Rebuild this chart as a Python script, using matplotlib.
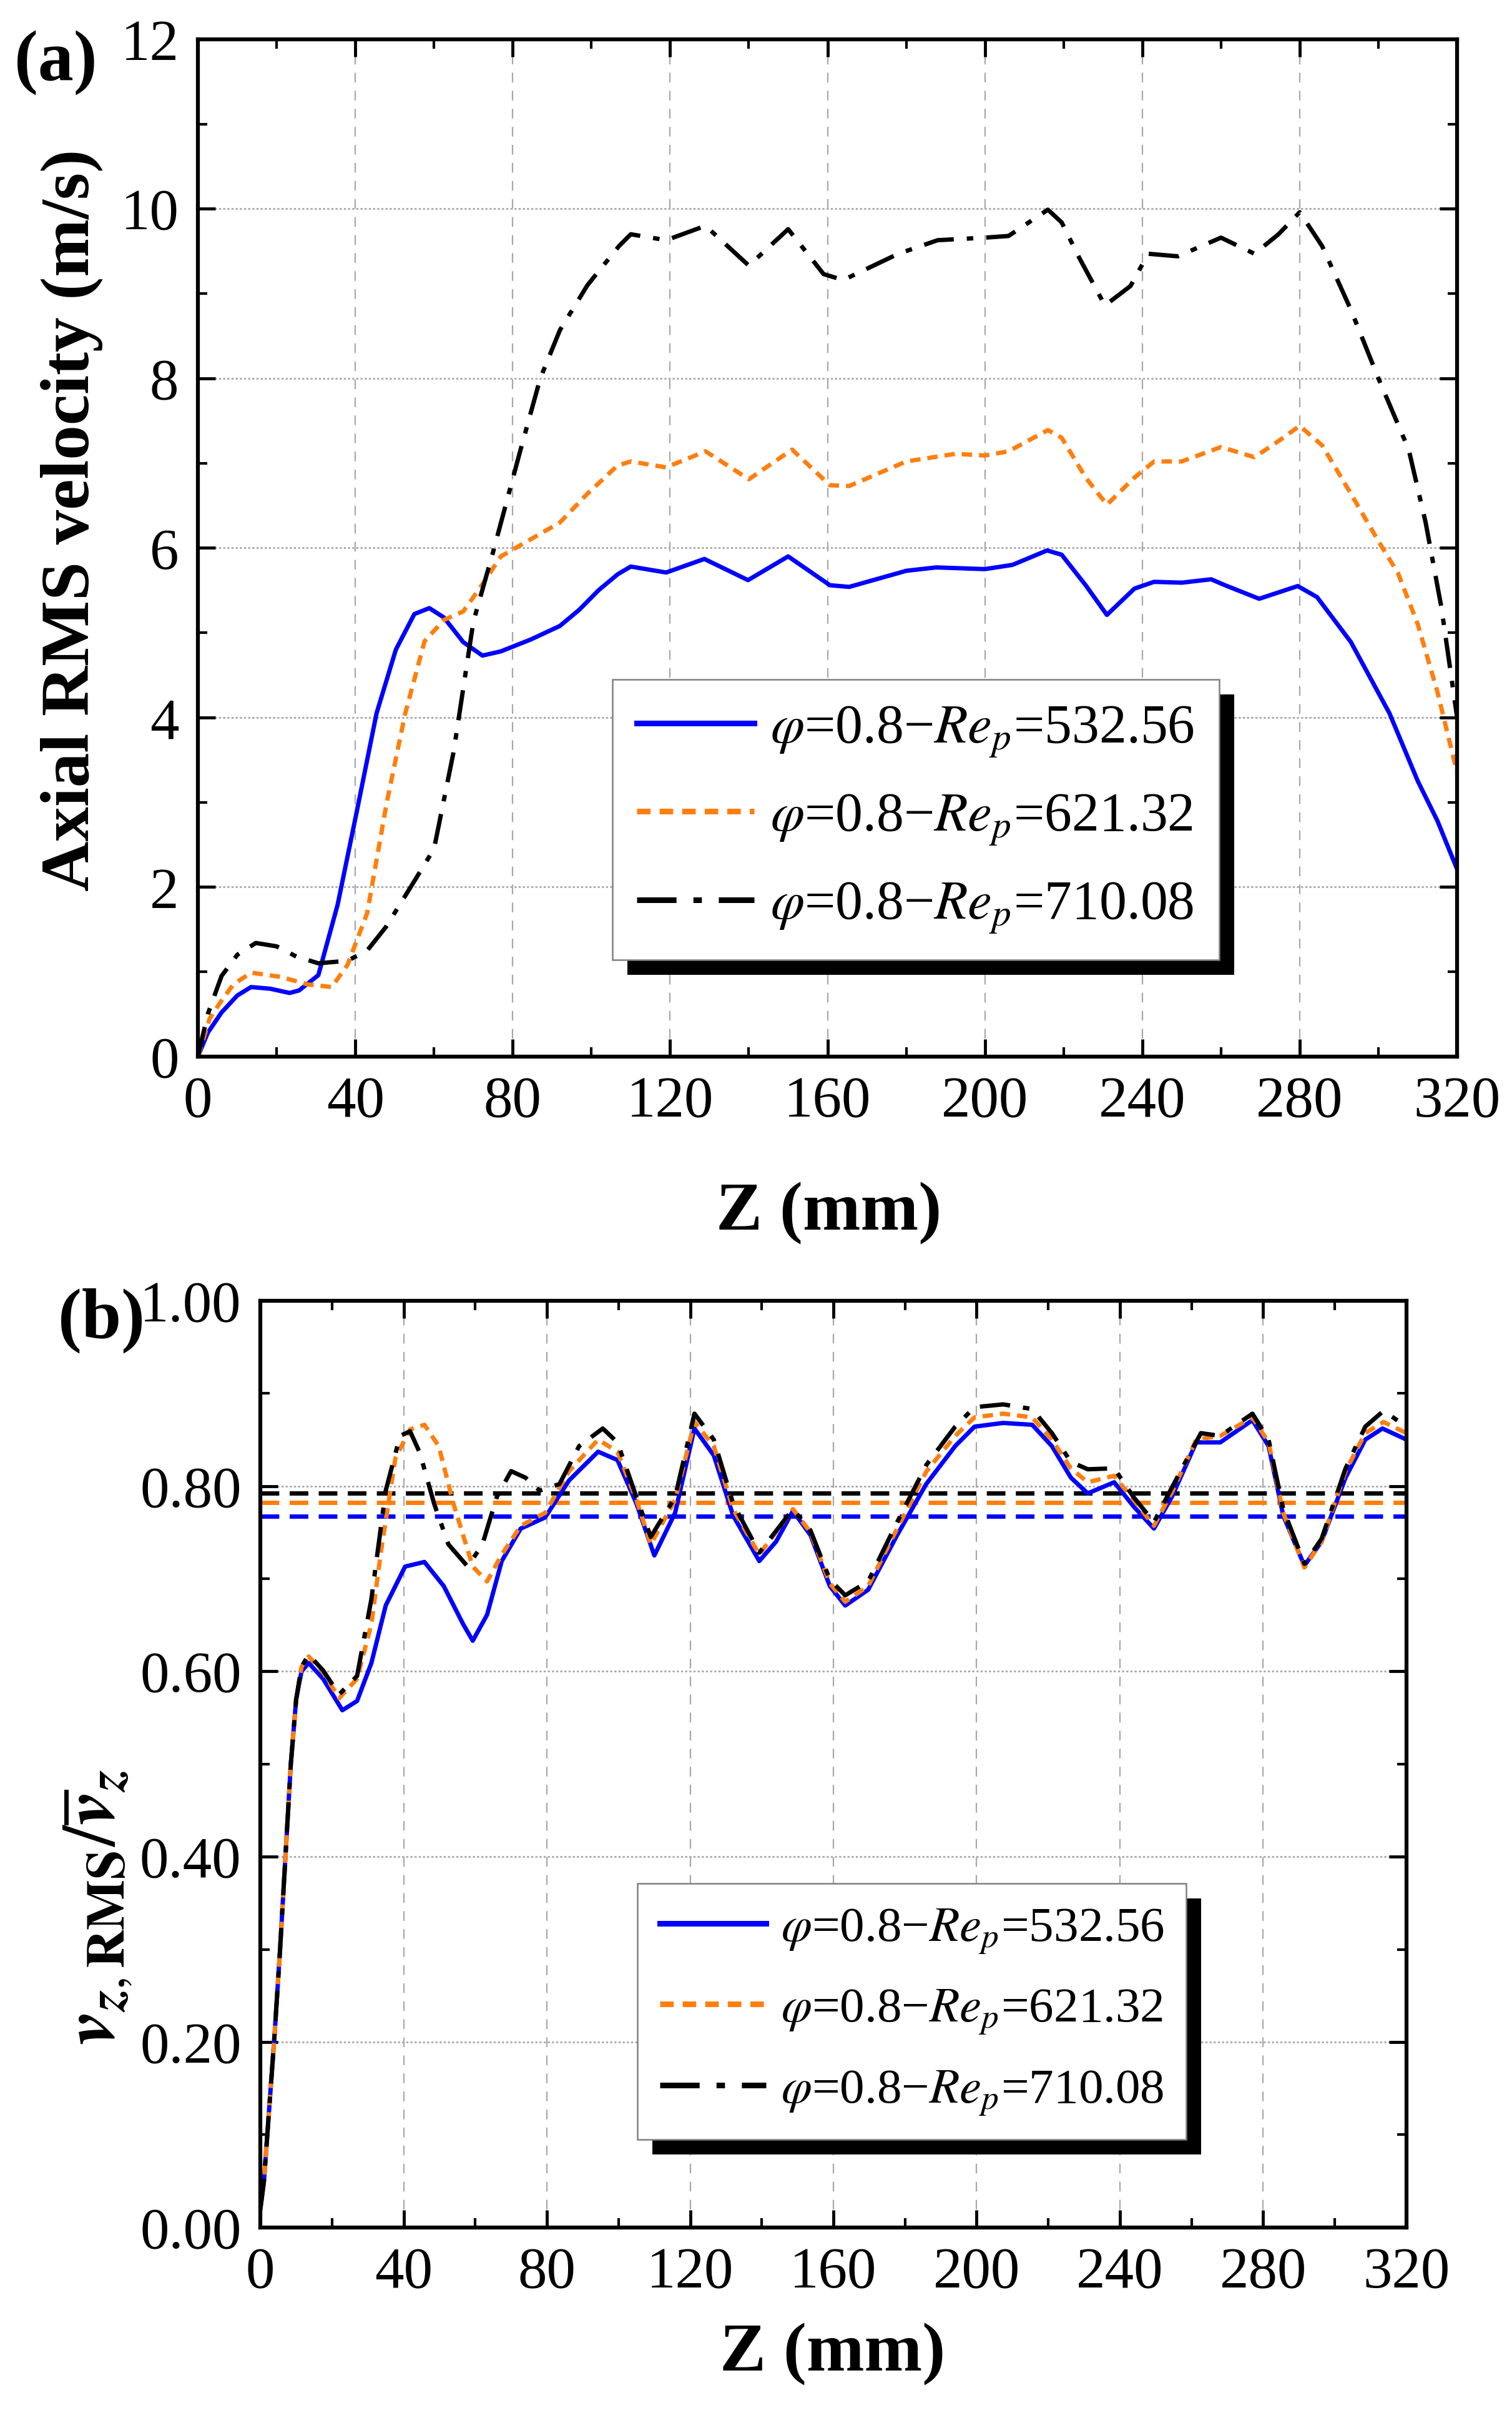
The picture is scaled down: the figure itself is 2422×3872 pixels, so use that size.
import matplotlib
matplotlib.use('Agg')
import matplotlib.pyplot as plt
from matplotlib.patches import Rectangle
from matplotlib.ticker import MultipleLocator, FormatStrFormatter

plt.rcParams['font.family'] = ['Liberation Serif', 'DejaVu Serif']
plt.rcParams['mathtext.fontset'] = 'stix'

labels = [r'$\varphi$=0.8−$Re_p$=532.56',
          r'$\varphi$=0.8−$Re_p$=621.32',
          r'$\varphi$=0.8−$Re_p$=710.08']
colors = ['#0000ff', '#ff7f0e', '#000000']

# (a) axial RMS velocity
za_blue = [0, 2.5, 6, 10, 13.5, 18.4, 23.3, 25.7, 30.6, 35.5,
           40.5, 45.4, 50.3, 55, 58.8, 62.5, 67.4, 72.3, 77, 84.6,
           92, 96.9, 101.8, 106.7, 110, 119, 128.7, 139.8, 150, 160.6,
           165.5, 180, 187.6, 200, 207, 215.8, 219.5, 225.6, 231, 238,
           243, 250, 257.5, 261, 269.7, 279.5, 284.4, 293, 302.8, 310,
           315, 320]
va_blue = [0, 0.28, 0.52, 0.72, 0.82, 0.80, 0.75, 0.78, 0.96, 1.79,
           2.92, 4.05, 4.8, 5.22, 5.29, 5.18, 4.89, 4.73, 4.78, 4.92,
           5.08, 5.27, 5.5, 5.69, 5.78, 5.71, 5.87, 5.62, 5.90, 5.56,
           5.54, 5.73, 5.77, 5.75, 5.8, 5.97, 5.92, 5.56, 5.21, 5.52,
           5.6, 5.59, 5.63, 5.56, 5.4, 5.55, 5.42, 4.89, 4.05, 3.25,
           2.78, 2.21]

za_orange = [0, 3, 6, 9, 13.5, 21, 28, 34, 38, 43,
             48, 52.7, 57.6, 62.5, 67.4, 72, 77, 83, 92, 99,
             106.6, 110, 119, 129, 140, 151, 160.6, 165.5, 180, 192.5,
             200, 206, 216, 219.5, 225.6, 231, 238, 243, 250, 260,
             268.5, 274.6, 280, 285.7, 293, 300, 305, 310, 315, 320]
va_orange = [0, 0.45, 0.66, 0.85, 0.99, 0.94, 0.85, 0.82, 1.08, 1.69,
             3.0, 4.05, 4.9, 5.15, 5.25, 5.55, 5.9, 6.06, 6.3, 6.64,
             6.97, 7.02, 6.95, 7.14, 6.81, 7.16, 6.74, 6.73, 7.02, 7.11,
             7.09, 7.14, 7.39, 7.3, 6.83, 6.51, 6.83, 7.02, 7.02, 7.19,
             7.07, 7.26, 7.44, 7.21, 6.64, 6.08, 5.7, 5.1, 4.3, 3.35]

za_black = [0, 2.5, 6, 10, 14.7, 20, 25, 30.6, 38, 43,
            47.8, 55, 60, 65, 70, 75, 82, 87, 92, 99,
            107, 110, 119, 129, 140, 150, 159, 164, 178, 188,
            200, 206, 216, 219.5, 224, 230.5, 237, 241.5, 249, 260,
            268.5, 274.6, 280, 285.7, 293, 300, 307.7, 312, 316, 320]
va_black = [0, 0.5, 0.95, 1.2, 1.34, 1.3, 1.18, 1.10, 1.13, 1.25,
            1.53, 2.07, 2.45, 3.6, 5.13, 5.95, 7.16, 8.0, 8.57, 9.1,
            9.56, 9.70, 9.63, 9.80, 9.33, 9.76, 9.23, 9.16, 9.47, 9.63,
            9.66, 9.68, 9.99, 9.84, 9.42, 8.86, 9.09, 9.47, 9.44, 9.66,
            9.47, 9.70, 9.96, 9.56, 8.81, 8.0, 7.16, 6.3, 5.3, 4.0]

# (b) normalised RMS velocity
zb_blue = [0, 1, 2.5, 4, 5.5, 7, 8.5, 10, 11.5, 13.5,
           17.5, 22.9, 27, 31, 35, 40.4, 45.8, 51.2, 56.6, 59.3,
           63.3, 67.4, 72.7, 79.5, 86.2, 94.3, 99.7, 105, 110, 115.8,
           121.2, 126.6, 132, 139.3, 144, 148.7, 153.6, 159, 163.3, 169.7,
           177.8, 185.9, 194, 199.4, 207.4, 215.5, 221, 226.3, 231, 238.4,
           243.8, 249.5, 254.6, 261.3, 268, 277, 281.5, 285.6, 291.5, 296.3,
           303, 308.5, 313.3, 320]
rb_blue = [0.02, 0.05, 0.13, 0.21, 0.30, 0.40, 0.50, 0.57, 0.60, 0.609,
           0.592, 0.558, 0.568, 0.609, 0.671, 0.713, 0.718, 0.692, 0.651, 0.633,
           0.661, 0.719, 0.754, 0.766, 0.806, 0.837, 0.828, 0.781, 0.725, 0.771,
           0.862, 0.833, 0.768, 0.719, 0.740, 0.773, 0.747, 0.692, 0.671, 0.688,
           0.747, 0.802, 0.843, 0.864, 0.868, 0.866, 0.843, 0.809, 0.792, 0.804,
           0.778, 0.754, 0.789, 0.847, 0.847, 0.871, 0.843, 0.768, 0.714, 0.740,
           0.809, 0.850, 0.862, 0.850]

zb_orange = [0, 1, 2.5, 4, 5.5, 7, 8.5, 10, 11.5, 13.5,
             17.5, 22, 27, 31, 33.7, 37.7, 41.8, 45.8, 49.8, 53.9,
             59.3, 63.3, 67.4, 72.7, 79.5, 86.2, 94.3, 99.7, 105, 109,
             115.8, 121.2, 126.6, 132, 139.3, 148.7, 153.6, 159, 163.3, 169.7,
             177.8, 186, 194, 199.4, 207.4, 215.5, 221, 226.3, 231, 238.4,
             243.8, 249.5, 254.6, 261.3, 268, 277, 281.5, 285.6, 291.5, 296.3,
             303, 308.5, 313.6, 320]
rb_orange = [0.02, 0.05, 0.13, 0.21, 0.30, 0.40, 0.50, 0.57, 0.605, 0.616,
             0.599, 0.571, 0.592, 0.651, 0.730, 0.830, 0.861, 0.866, 0.843, 0.781,
             0.713, 0.697, 0.726, 0.757, 0.771, 0.816, 0.850, 0.837, 0.785, 0.737,
             0.785, 0.869, 0.843, 0.775, 0.726, 0.775, 0.750, 0.695, 0.675, 0.692,
             0.754, 0.816, 0.854, 0.874, 0.878, 0.874, 0.850, 0.819, 0.804, 0.811,
             0.785, 0.757, 0.794, 0.850, 0.854, 0.874, 0.847, 0.771, 0.712, 0.740,
             0.816, 0.857, 0.869, 0.857]

zb_black = [0, 1, 2.5, 4, 5.5, 7, 8.5, 10, 11.5, 13.5,
            17.5, 22, 27, 31, 35, 39, 41.8, 44.5, 48.5, 52.5,
            57.9, 62, 66, 70, 74, 78, 83.5, 89, 95.6, 99.7,
            105, 109, 115.8, 121.2, 126.6, 132, 139.3, 148.7, 153.6, 159,
            163.3, 169.7, 177.8, 186, 194, 199.4, 207.4, 215.5, 221, 226.3,
            231, 238.4, 243.8, 249.5, 254.6, 262.6, 268, 277, 281.5, 285.6,
            291.5, 296.3, 303, 308.5, 313.6, 320]
rb_black = [0.02, 0.05, 0.13, 0.21, 0.30, 0.40, 0.50, 0.57, 0.605, 0.618,
            0.601, 0.575, 0.595, 0.678, 0.795, 0.854, 0.859, 0.836, 0.781, 0.737,
            0.713, 0.737, 0.788, 0.816, 0.809, 0.795, 0.802, 0.843, 0.862, 0.847,
            0.788, 0.745, 0.788, 0.878, 0.850, 0.781, 0.728, 0.775, 0.752, 0.699,
            0.682, 0.697, 0.761, 0.823, 0.864, 0.885, 0.888, 0.883, 0.857, 0.826,
            0.818, 0.819, 0.788, 0.761, 0.799, 0.857, 0.854, 0.878, 0.850, 0.775,
            0.716, 0.743, 0.819, 0.864, 0.881, 0.864]

# mean values (dashed horizontal lines)
rb_mean = [0.767, 0.782, 0.792]

dashes = [None, (2.4, 1.6), (7, 3, 1.5, 3)]
lw = 5

fig = plt.figure(figsize=(24.22, 38.73), dpi=100)
ax1 = fig.add_axes([0.1309, 0.5629, 0.8328, 0.4206])
ax2 = fig.add_axes([0.1722, 0.0788, 0.7580, 0.3832])


def style_axes(ax):
    ax.tick_params(which='both', direction='in', top=True, right=True,
                   labelsize=67, pad=22)
    ax.tick_params(which='major', length=20, width=3.5)
    ax.tick_params(which='minor', length=11, width=3)
    for sp in ax.spines.values():
        sp.set_linewidth(4.5)
    ax.xaxis.grid(True, color='#a8a8a8', linewidth=1.6, dashes=(7, 6))
    ax.yaxis.grid(True, color='#a8a8a8', linewidth=2, dashes=(1.2, 1.2))
    ax.set_axisbelow(True)
    ax.set_xlim(0, 320)
    ax.xaxis.set_major_locator(MultipleLocator(40))
    ax.xaxis.set_minor_locator(MultipleLocator(20))


def add_legend(ax, size, spacing):
    leg = ax.legend(loc='upper left', bbox_to_anchor=(0.329, 0.371),
                    borderaxespad=0, fontsize=size, frameon=True, fancybox=False,
                    framealpha=1, edgecolor='#808080', handlelength=2.15,
                    handletextpad=0.3, labelspacing=spacing, borderpad=0.45)
    leg.get_frame().set_linewidth(1.8)
    for h in leg.get_lines():
        h.set_linewidth(6.5)
    fig.canvas.draw()
    bb = leg.get_window_extent().transformed(ax.transAxes.inverted())
    ox = 24 / (ax.bbox.width)
    oy = 24 / (ax.bbox.height)
    ax.add_patch(Rectangle((bb.x0 + ox, bb.y0 - oy), bb.width, bb.height,
                           transform=ax.transAxes, facecolor='black',
                           edgecolor='none', zorder=4.9, clip_on=False))


# panel (a)
style_axes(ax1)
for z, v, c, d, lab in zip([za_blue, za_orange, za_black],
                           [va_blue, va_orange, va_black],
                           colors, dashes, labels):
    line, = ax1.plot(z, v, color=c, linewidth=lw, label=lab)
    if d is not None:
        line.set_dashes(d)
ax1.set_ylim(0, 12)
ax1.yaxis.set_major_locator(MultipleLocator(2))
ax1.yaxis.set_minor_locator(MultipleLocator(1))
add_legend(ax1, 63, 0.6)

# panel (b)
style_axes(ax2)
for m, c in zip(rb_mean, colors):
    ax2.axhline(m, color=c, linewidth=lw, dashes=(4.3, 2.4), zorder=1.5)
for z, r, c, d, lab in zip([zb_blue, zb_orange, zb_black],
                           [rb_blue, rb_orange, rb_black],
                           colors, dashes, labels):
    line, = ax2.plot(z, r, color=c, linewidth=lw, label=lab)
    if d is not None:
        line.set_dashes(d)
ax2.set_ylim(0, 1.0)
ax2.yaxis.set_major_locator(MultipleLocator(0.2))
ax2.yaxis.set_minor_locator(MultipleLocator(0.1))
ax2.yaxis.set_major_formatter(FormatStrFormatter('%.2f'))
add_legend(ax2, 57, 0.64)

# labels
fig.text(0.0475, 0.785, 'Axial RMS velocity (m/s)', rotation=90,
         ha='center', va='center', fontsize=80, fontweight='bold')
fig.text(0.548, 0.4983, 'Z (mm)', ha='center', va='center',
         fontsize=80, fontweight='bold')
fig.text(0.0643, 0.2115,
         r'$\mathbfit{v}_{\mathbfit{z},\mathbf{RMS}}/\overline{\mathbfit{v}}_{\mathbfit{z}}$',
         rotation=90, ha='center', va='center', fontsize=88)
fig.text(0.5505, 0.0266, 'Z (mm)', ha='center', va='center',
         fontsize=80, fontweight='bold')
fig.text(0.0367, 0.9742, '(a)', ha='center', va='center',
         fontsize=82, fontweight='bold')
fig.text(0.0669, 0.4539, '(b)', ha='center', va='center',
         fontsize=82, fontweight='bold')

fig.savefig('out.png', dpi=100)
